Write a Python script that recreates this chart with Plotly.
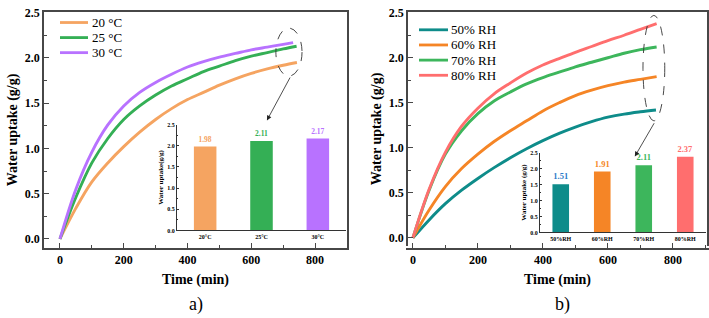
import plotly.graph_objects as go

# ---------------- data: panel a) temperature ----------------
t_20 = [0, 50, 100, 150, 200, 250, 300, 350, 400, 450, 500, 550, 600, 650, 700, 743]
w_20 = [0, 0.34, 0.63, 0.84, 1.02, 1.18, 1.32, 1.44, 1.54, 1.62, 1.70, 1.77, 1.83, 1.88, 1.92, 1.95]
t_25 = [0, 50, 100, 150, 200, 250, 300, 350, 400, 450, 500, 550, 600, 650, 700, 742]
w_25 = [0, 0.46, 0.84, 1.11, 1.32, 1.47, 1.59, 1.69, 1.77, 1.85, 1.91, 1.97, 2.02, 2.06, 2.10, 2.13]
t_30 = [0, 50, 100, 150, 200, 250, 300, 350, 400, 450, 500, 550, 600, 650, 700, 731]
w_30 = [0, 0.55, 0.96, 1.26, 1.47, 1.62, 1.73, 1.82, 1.90, 1.96, 2.01, 2.05, 2.09, 2.12, 2.15, 2.17]

# ---------------- data: panel b) relative humidity ----------------
t_50 = [0, 50, 100, 150, 200, 250, 300, 350, 400, 450, 500, 550, 600, 650, 700, 748]
w_50 = [0, 0.20, 0.38, 0.53, 0.66, 0.78, 0.89, 0.99, 1.08, 1.16, 1.23, 1.29, 1.34, 1.375, 1.40, 1.42]
t_60 = [0, 50, 100, 150, 200, 250, 300, 350, 400, 450, 500, 550, 600, 650, 700, 750]
w_60 = [0, 0.31, 0.57, 0.77, 0.93, 1.07, 1.19, 1.30, 1.41, 1.50, 1.58, 1.64, 1.69, 1.73, 1.76, 1.79]
t_70 = [0, 50, 100, 150, 200, 250, 300, 350, 400, 450, 500, 550, 600, 650, 700, 750]
w_70 = [0, 0.53, 0.93, 1.19, 1.38, 1.52, 1.62, 1.71, 1.78, 1.84, 1.90, 1.95, 2.00, 2.05, 2.09, 2.12]
t_80 = [0, 50, 100, 150, 200, 250, 300, 350, 400, 450, 500, 550, 600, 650, 700, 750]
w_80 = [0, 0.54, 0.95, 1.24, 1.44, 1.60, 1.72, 1.83, 1.92, 1.99, 2.06, 2.125, 2.19, 2.25, 2.315, 2.38]

# ---------------- inset bars ----------------
temp_cats = ["20°C", "25°C", "30°C"]
temp_vals = [1.98, 2.11, 2.17]
rh_cats = ["50%RH", "60%RH", "70%RH", "80%RH"]
rh_vals = [1.51, 1.91, 2.11, 2.37]

temp_names = ["20 °C", "25 °C", "30 °C"]
rh_names = ["50% RH", "60% RH", "70% RH", "80% RH"]

SERIF = "Liberation Serif"
W, H = 709, 318

c20, c25, c30 = "#F5A461", "#34AF55", "#B872FF"
c50, c60, c70, c80 = "#0E8C8A", "#F58526", "#3DB65C", "#FF6E6E"
temp_cols = [c20, c25, c30]
rh_cols = [c50, c60, c70, c80]

fig = go.Figure()

for t, w, name, col in zip([t_20, t_25, t_30], [w_20, w_25, w_30], temp_names, temp_cols):
    fig.add_trace(go.Scatter(x=t, y=w, mode="lines", name=name,
                             line=dict(color=col, width=2.9, shape="spline", smoothing=1.0),
                             xaxis="x", yaxis="y", showlegend=False))

for t, w, name, col in zip([t_50, t_60, t_70, t_80], [w_50, w_60, w_70, w_80], rh_names, rh_cols):
    fig.add_trace(go.Scatter(x=t, y=w, mode="lines", name=name,
                             line=dict(color=col, width=2.9, shape="spline", smoothing=1.0),
                             xaxis="x2", yaxis="y2", showlegend=False))

fig.add_trace(go.Bar(x=temp_cats, y=temp_vals, width=0.4, marker=dict(color=temp_cols, line=dict(width=0)),
                     text=[f"{v:.2f}" for v in temp_vals], textposition="outside", cliponaxis=False,
                     textfont=dict(family=SERIF, size=7.5, color=temp_cols, weight="bold"),
                     showlegend=False, xaxis="x3", yaxis="y3"))
fig.add_trace(go.Bar(x=rh_cats, y=rh_vals, width=0.4, marker=dict(color=rh_cols, line=dict(width=0)),
                     text=[f"{v:.2f}" for v in rh_vals], textposition="outside", cliponaxis=False,
                     textfont=dict(family=SERIF, size=8.5, color=["#2A7BC8", c60, c70, c80], weight="bold"),
                     showlegend=False, xaxis="x4", yaxis="y4"))

def px_x(p):
    return p / W

def px_y(p):
    return 1 - p / H

frame = "#474747"
tickfont = dict(family=SERIF, size=12, color="black", weight="bold")
titlefont = dict(family=SERIF, size=14, color="black", weight="bold")

def main_x(dom, rng):
    return dict(domain=dom, range=rng, showline=True, linecolor=frame, linewidth=1.6, mirror=True,
                ticks="inside", ticklen=5, tickwidth=1.2, tickcolor=frame, dtick=200, tick0=0,
                minor=dict(ticks="inside", ticklen=3, tickwidth=1, tickcolor=frame, dtick=100),
                showgrid=False, zeroline=False, tickfont=tickfont,
                title=dict(text="Time (min)", font=titlefont, standoff=8))

def main_y(dom, rng, anchor):
    return dict(domain=dom, range=rng, anchor=anchor, showline=True, linecolor=frame, linewidth=1.6, mirror=True,
                ticks="inside", ticklen=5, tickwidth=1.2, tickcolor=frame, dtick=0.5, tick0=0, tickformat=".1f",
                minor=dict(ticks="inside", ticklen=3, tickwidth=1, tickcolor=frame, dtick=0.25),
                showgrid=False, zeroline=False, tickfont=tickfont,
                title=dict(text="Water uptake (g/g)", font=titlefont, standoff=4))

inset_tick = dict(family=SERIF, size=6, color="black", weight="bold")
inset_title = dict(family=SERIF, size=7, color="black", weight="bold")

def inset_x(dom, anchor, n):
    return dict(domain=dom, anchor=anchor, range=[-0.5, n - 0.5], showline=True, linecolor="#333", linewidth=0.9,
                ticks="", showgrid=False, zeroline=False, tickfont=inset_tick, ticklabelstandoff=0)

def inset_y(dom, anchor, title):
    return dict(domain=dom, anchor=anchor, range=[0, 2.5], showline=True, linecolor="#333", linewidth=0.9,
                ticks="inside", ticklen=2, tickwidth=0.8, tickcolor="#333", dtick=0.5, tickformat=".1f",
                minor=dict(ticks="inside", ticklen=1, dtick=0.25, tickcolor="#333"),
                showgrid=False, zeroline=False, tickfont=inset_tick,
                title=dict(text=title, font=inset_title, standoff=2))

shapes = [
    dict(type="circle", xref="x", yref="y", x0=677, x1=759, y0=1.80, y1=2.33,
         line=dict(color="#333", width=0.9, dash="dash")),
    dict(type="circle", xref="x2", yref="y2", x0=708, x1=775, y0=1.30, y1=2.47,
         line=dict(color="#333", width=0.9, dash="dash")),
]
annotations = [
    dict(x=649, y=1.31, ax=724, ay=1.80, xref="x", yref="y", axref="x", ayref="y", text="",
         showarrow=True, arrowhead=2, arrowsize=1.2, arrowwidth=0.8, arrowcolor="#222"),
    dict(x=683, y=0.905, ax=745, ay=1.29, xref="x2", yref="y2", axref="x2", ayref="y2", text="",
         showarrow=True, arrowhead=2, arrowsize=1.2, arrowwidth=0.8, arrowcolor="#222"),
    dict(x=px_x(196), y=px_y(307), xref="paper", yref="paper", text="a)", showarrow=False,
         font=dict(family=SERIF, size=18, color="black"), xanchor="center", yanchor="middle"),
    dict(x=px_x(562), y=px_y(307), xref="paper", yref="paper", text="b)", showarrow=False,
         font=dict(family=SERIF, size=18, color="black"), xanchor="center", yanchor="middle"),
]

# hand-placed legends (compact spacing as in the reference)
def add_legend(names, cols, x0, x1, xt, y_start, dy):
    for i, (n, c) in enumerate(zip(names, cols)):
        yy = y_start + i * dy
        shapes.append(dict(type="line", xref="paper", yref="paper", x0=px_x(x0), x1=px_x(x1),
                           y0=px_y(yy), y1=px_y(yy), line=dict(color=c, width=2.8)))
        annotations.append(dict(x=px_x(xt), y=px_y(yy), xref="paper", yref="paper", text=n,
                                showarrow=False, xanchor="left", yanchor="middle",
                                font=dict(family=SERIF, size=13, color="black")))

add_legend(temp_names, temp_cols, 60, 88, 90, 17, 15.5)
add_legend(rh_names, rh_cols, 419, 448, 449, 24.5, 15.6)

fig.update_layout(
    width=W, height=H, margin=dict(l=0, r=0, t=0, b=0),
    paper_bgcolor="white", plot_bgcolor="rgba(0,0,0,0)",
    font=dict(family=SERIF, color="black"),
    xaxis=main_x([px_x(44), px_x(347)], [-50, 900]),
    yaxis=main_y([px_y(249), px_y(6)], [-0.1, 2.51], "x"),
    xaxis2=main_x([px_x(408), px_x(707)], [-15, 905]),
    yaxis2=main_y([px_y(247), px_y(6)], [-0.09, 2.51], "x2"),
    xaxis3=inset_x([px_x(177), px_x(346)], "y3", 3),
    yaxis3=inset_y([px_y(231), px_y(122)], "x3", "Water uptake(g/g)"),
    xaxis4=inset_x([px_x(540), px_x(706)], "y4", 4),
    yaxis4=inset_y([px_y(233), px_y(151)], "x4", "Water uptake (g/g)"),
    showlegend=False,
    shapes=shapes,
    annotations=annotations,
)

fig.write_html("out.html", config={"displayModeBar": False},
               post_script="document.body.style.margin='0';document.body.style.overflow='hidden';")
